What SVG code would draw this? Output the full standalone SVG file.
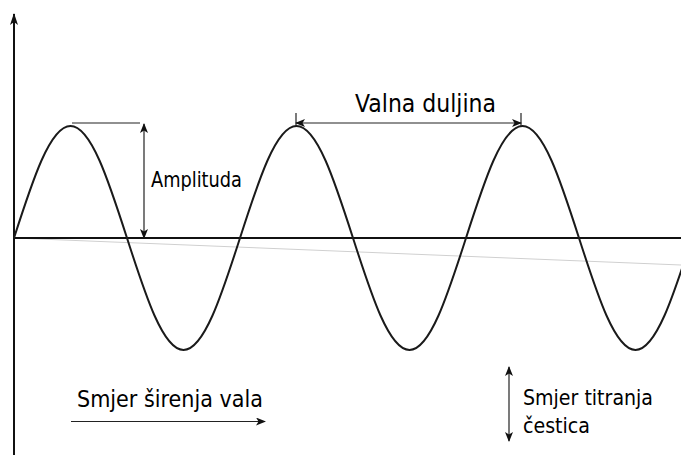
<svg xmlns="http://www.w3.org/2000/svg" width="681" height="455" viewBox="0 0 681 455">
<style>
text{font-family:"DejaVu Sans","Liberation Sans",sans-serif;fill:#000}
.axis{stroke:#111;stroke-width:2;fill:none}
.wave{stroke:#1a1a1a;stroke-width:2;fill:none}
.ann{stroke:#222;stroke-width:1.2;fill:none}
.faint{stroke:#d0d0d0;stroke-width:1;fill:none}
</style>
<defs>
<marker id="ah" viewBox="0 0 10 8" refX="9" refY="4" markerWidth="10" markerHeight="8" markerUnits="userSpaceOnUse" orient="auto-start-reverse">
<path d="M0,0 L10,4 L0,8 L2.5,4 Z" fill="#111"/>
</marker>
<marker id="ahBig" viewBox="0 0 12 8" refX="11" refY="4" markerWidth="12" markerHeight="8" markerUnits="userSpaceOnUse" orient="auto-start-reverse">
<path d="M0,0 L12,4 L0,8 L3,4 Z" fill="#111"/>
</marker>
</defs>
<rect width="681" height="455" fill="#fff"/>
<g id="connectors">
<line class="faint" x1="14" y1="238" x2="681" y2="265"/>
<line class="axis" x1="14" y1="455" x2="14" y2="14" marker-end="url(#ahBig)"/>
<line class="axis" x1="14" y1="238" x2="681" y2="238"/>
<path class="wave" d="M14,238 c18.43,-57.38 36.05,-112 56.5,-112 s38.07,54.62 56.5,112 s36.05,112 56.5,112 s38.07,-54.62 56.5,-112 s36.05,-112 56.5,-112 s38.07,54.62 56.5,112 s36.05,112 56.5,112 s38.07,-54.62 56.5,-112 s36.05,-112 56.5,-112 s38.07,54.62 56.5,112 s36.05,112 56.5,112 s38.07,-54.62 56.5,-112"/>
<line class="ann" x1="72" y1="123" x2="140" y2="123"/>
<line class="ann" x1="144" y1="124" x2="144" y2="238" marker-start="url(#ah)" marker-end="url(#ah)"/>
<line class="ann" x1="296" y1="113" x2="296" y2="126"/>
<line class="ann" x1="521" y1="113" x2="521" y2="126"/>
<line class="ann" x1="296" y1="123" x2="521" y2="123" marker-start="url(#ah)" marker-end="url(#ah)"/>
<line class="ann" x1="71" y1="421.5" x2="265" y2="421.5" marker-end="url(#ah)"/>
<line class="ann" x1="509" y1="367" x2="509" y2="441" marker-start="url(#ah)" marker-end="url(#ah)"/>
</g>
<g id="amplituda"><text x="151" y="186.5" font-size="22" textLength="91" lengthAdjust="spacingAndGlyphs">Amplituda</text></g>
<g id="valna-duljina"><text x="355" y="112" font-size="24" textLength="141" lengthAdjust="spacingAndGlyphs">Valna duljina</text></g>
<g id="smjer-sirenja"><text x="77" y="406.5" font-size="23" textLength="186" lengthAdjust="spacingAndGlyphs">Smjer širenja vala</text></g>
<g id="smjer-titranja"><text x="523" y="405" font-size="21" textLength="130" lengthAdjust="spacingAndGlyphs">Smjer titranja</text><text x="523" y="433" font-size="21" textLength="67" lengthAdjust="spacingAndGlyphs">čestica</text></g>
</svg>
